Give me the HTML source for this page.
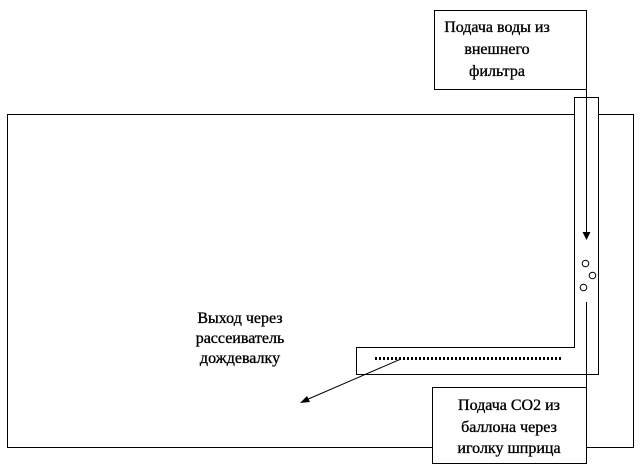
<!DOCTYPE html>
<html><head><meta charset="utf-8"><style>
html,body{margin:0;padding:0;background:#fff;}
svg{display:block;}
text{font-family:"Liberation Serif","DejaVu Serif",serif;font-size:16px;fill:#000;stroke:#000;stroke-width:0.35;}
</style></head><body>
<svg width="644" height="474" viewBox="0 0 644 474" xmlns="http://www.w3.org/2000/svg">
<g fill="none" stroke="#000" stroke-width="1">
<rect x="7.5" y="114.5" width="626" height="333" fill="#fff"/>
<rect x="434.5" y="10.5" width="152" height="79" fill="#fff"/>
<path d="M574.5 97.5 H598.5 V374.5 H356.5 V347.5 H574.5 Z" fill="#fff"/>
<line x1="586.5" y1="89" x2="586.5" y2="232"/>
<line x1="586.5" y1="302" x2="586.5" y2="388"/>
<circle cx="585.5" cy="263.5" r="3.3"/>
<circle cx="592.5" cy="275.5" r="3.3"/>
<circle cx="583.5" cy="287.5" r="3.3"/>
<rect x="432.5" y="387.5" width="154" height="76" fill="#fff"/>
<line x1="401" y1="359" x2="306" y2="400"/>
</g>
<polygon points="582.5,232 590.5,232 586.5,240" fill="#000"/>
<polygon points="300,403 307,396 310,402" fill="#000"/>
<line x1="375" y1="358.5" x2="561" y2="358.5" stroke="#000" stroke-width="3" stroke-dasharray="2,2"/>
<text x="497" y="32" text-anchor="middle">Подача воды из</text>
<text x="497" y="54" text-anchor="middle">внешнего</text>
<text x="497" y="76" text-anchor="middle">фильтра</text>
<text x="240" y="323" text-anchor="middle">Выход через</text>
<text x="240" y="343" text-anchor="middle">рассеиватель</text>
<text x="240" y="363" text-anchor="middle">дождевалку</text>
<text x="509" y="410" text-anchor="middle">Подача СО2 из</text>
<text x="509" y="432" text-anchor="middle">баллона через</text>
<text x="509" y="453" text-anchor="middle">иголку шприца</text>
</svg>
</body></html>
